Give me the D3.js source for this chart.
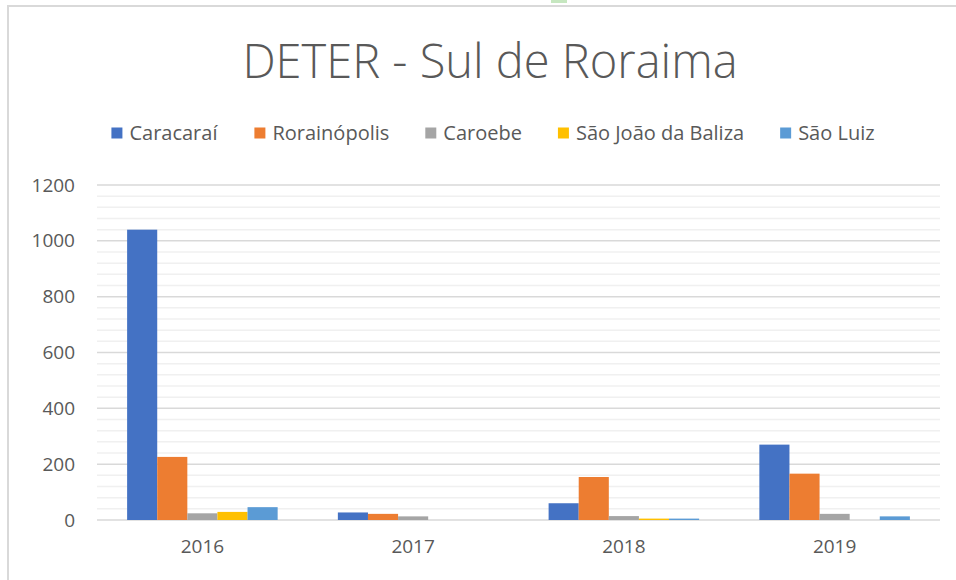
<!DOCTYPE html>
<html>
<head>
<meta charset="utf-8">
<script src="https://cdn.jsdelivr.net/npm/d3@7"></script>
<style>
  body { margin: 0; background: #fff; }
  svg { display: block; }
  text { font-family: "Open Sans", "Liberation Sans", sans-serif; fill: #595959; }
</style>
</head>
<body>
<svg width="956" height="580"></svg>
<script>
// dados
var anos = ["2016", "2017", "2018", "2019"];
var municipios = ["Caracaraí", "Rorainópolis", "Caroebe", "São João da Baliza", "São Luiz"];
var caracarai = [1040, 27, 60, 270];
var rorainopolis = [226, 22, 154, 166];
var caroebe = [24, 13, 14, 22];
var saoJoao = [29, 0, 5, 0];
var saoLuiz = [46, 0, 5, 13];
var yTicks = [0, 200, 400, 600, 800, 1000, 1200];
var cores = ["#4472C4", "#ED7D31", "#A5A5A5", "#FFC000", "#5B9BD5"];

var series = [caracarai, rorainopolis, caroebe, saoJoao, saoLuiz];

var svg = d3.select("svg");

// moldura do gráfico (Excel)
svg.append("rect")
    .attr("x", 8).attr("y", 6)
    .attr("width", 1000).attr("height", 600)
    .attr("fill", "#fff")
    .attr("stroke", "#d9d9d9")
    .attr("stroke-width", 2);
svg.append("rect")
    .attr("x", 551).attr("y", 0)
    .attr("width", 16).attr("height", 3)
    .attr("fill", "#c6e7c0");

// titulo
svg.append("text")
    .attr("x", 490)
    .attr("y", 78)
    .attr("text-anchor", "middle")
    .attr("font-size", 47)
    .attr("font-weight", 300)
    .text("DETER - Sul de Roraima");

var margin = {left: 97, right: 940, top: 185, bottom: 520};

var x0 = d3.scaleBand()
    .domain(anos)
    .range([margin.left, margin.right])
    .paddingInner(0.2857)
    .paddingOuter(0.1429);

var x1 = d3.scaleBand()
    .domain(municipios)
    .range([0, x0.bandwidth()]);

var y = d3.scaleLinear()
    .domain([0, 1200])
    .range([margin.bottom, margin.top]);

// linhas de grade secundarias e principais
var g = svg.append("g");
g.selectAll(".minor")
    .data(d3.range(40, 1200, 40).filter(function(d) { return d % 200 != 0; }))
    .enter().append("line")
    .attr("x1", margin.left).attr("x2", margin.right)
    .attr("y1", function(d) { return y(d); })
    .attr("y2", function(d) { return y(d); })
    .attr("stroke", "#f0f0f0")
    .attr("stroke-width", 1.5);
g.selectAll(".major")
    .data(yTicks)
    .enter().append("line")
    .attr("x1", margin.left).attr("x2", margin.right)
    .attr("y1", function(d) { return y(d); })
    .attr("y2", function(d) { return y(d); })
    .attr("stroke", "#d9d9d9")
    .attr("stroke-width", 1.5);

// barras
var grupos = svg.append("g")
    .selectAll("g")
    .data(anos)
    .enter().append("g")
    .attr("transform", function(d) { return "translate(" + x0(d) + ",0)"; });

grupos.selectAll("rect")
    .data(function(d, i) { return municipios.map(function(m, j) { return {key: m, value: series[j][i], cor: cores[j]}; }); })
    .enter().append("rect")
    .attr("x", function(d) { return x1(d.key); })
    .attr("y", function(d) { return y(d.value); })
    .attr("width", x1.bandwidth())
    .attr("height", function(d) { return y(0) - y(d.value); })
    .attr("fill", function(d) { return d.cor; });

// eixo y
var yAxis = svg.append("g")
    .attr("transform", "translate(" + (margin.left - 22) + ",0)")
    .call(d3.axisLeft(y).tickValues(yTicks).tickFormat(d3.format("d")).tickSize(0).tickPadding(0));
yAxis.select(".domain").remove();
yAxis.selectAll("text")
    .attr("font-size", 19)
    .attr("fill", "#595959")
    .style("font-family", "\"Open Sans\", \"Liberation Sans\", sans-serif");

// eixo x
var xAxis = svg.append("g")
    .attr("transform", "translate(0," + margin.bottom + ")")
    .call(d3.axisBottom(x0).tickSize(0).tickPadding(20));
xAxis.select(".domain").remove();
xAxis.selectAll("text")
    .attr("font-size", 19)
    .attr("fill", "#595959")
    .style("font-family", "\"Open Sans\", \"Liberation Sans\", sans-serif");

// legenda
var legenda = svg.append("g");
var itens = legenda.selectAll("g")
    .data(municipios)
    .enter().append("g");
itens.append("rect")
    .attr("width", 11).attr("height", 11)
    .attr("y", -5.5)
    .attr("fill", function(d, i) { return cores[i]; });
itens.append("text")
    .attr("x", 18)
    .attr("dy", "0.35em")
    .attr("font-size", 20)
    .text(function(d) { return d; });

var gap = 36;
var pos = 0;
itens.each(function() {
    var w = this.getBBox().width;
    d3.select(this).attr("transform", "translate(" + pos + ",133)");
    pos += w + gap;
});
pos -= gap;
legenda.attr("transform", "translate(" + (493 - pos / 2) + ",0)");
</script>
</body>
</html>
